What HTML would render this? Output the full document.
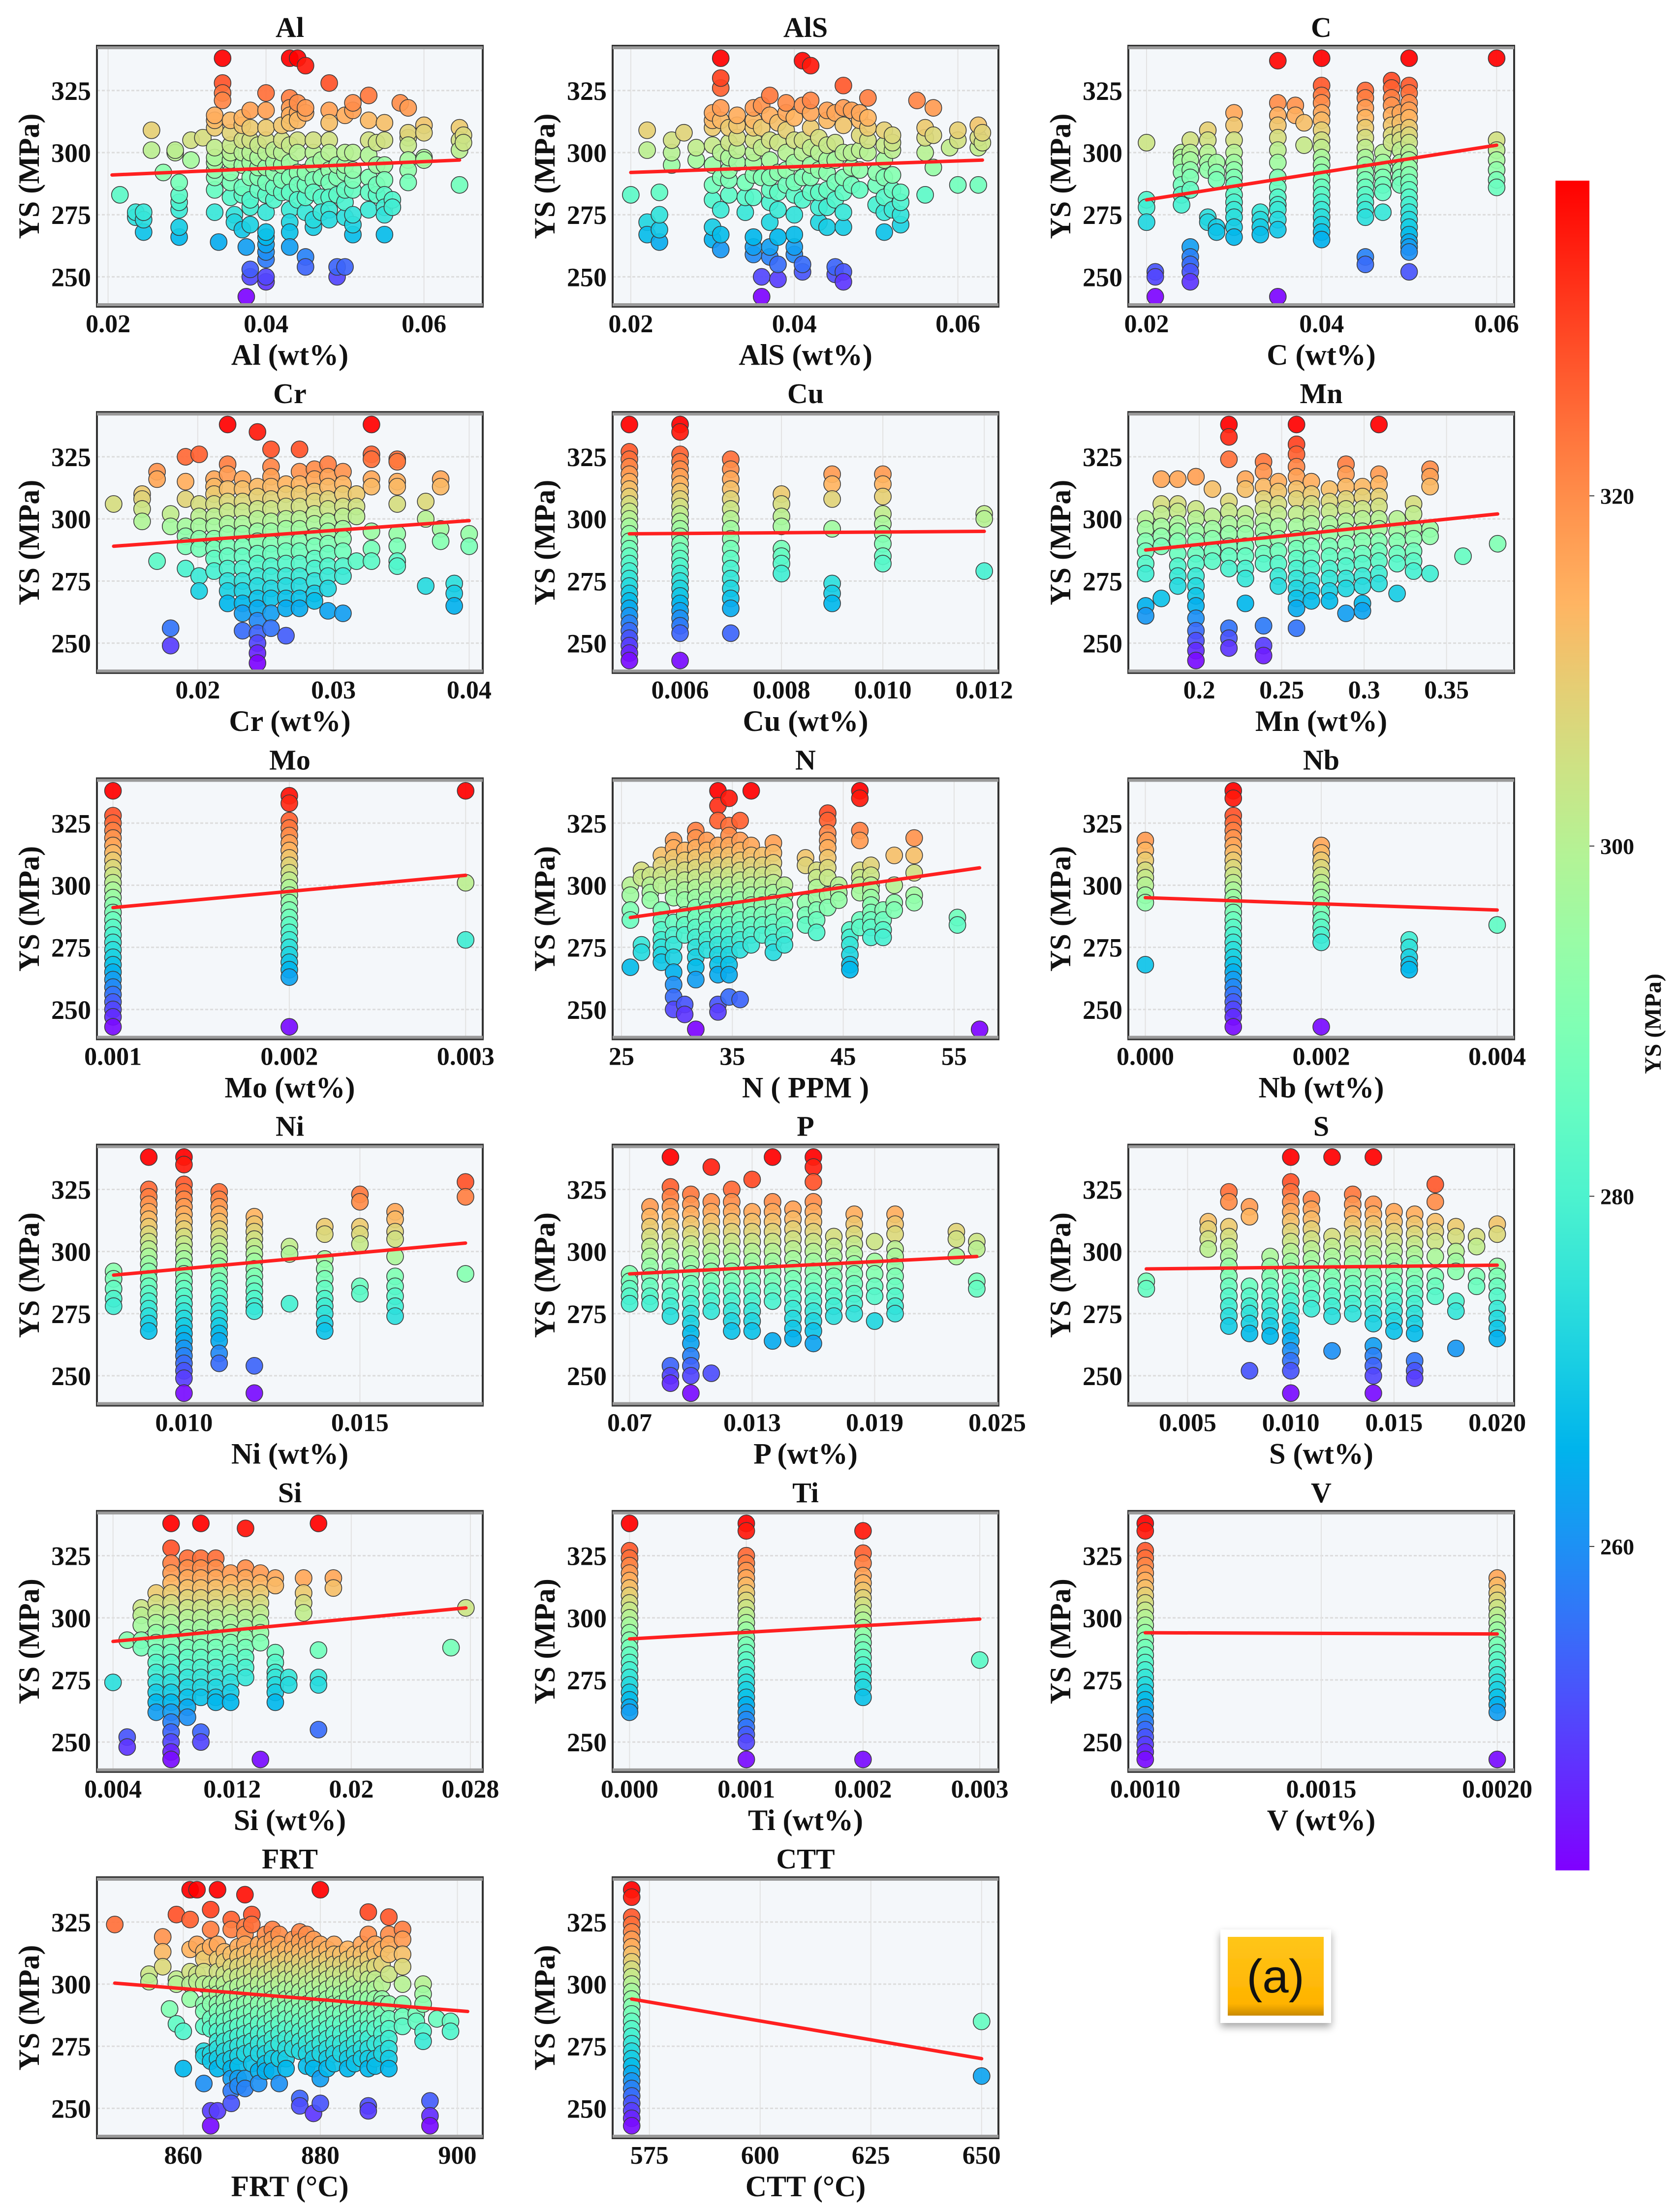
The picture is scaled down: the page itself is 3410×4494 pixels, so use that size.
<!DOCTYPE html>
<html><head><meta charset="utf-8"><title>YS scatter matrix</title>
<style>
html,body{margin:0;padding:0;background:#fff;}
svg{display:block;}
text{font-family:"Liberation Serif","DejaVu Serif",serif;font-weight:bold;fill:#111;}
</style></head>
<body>
<svg id="fig" width="3410" height="4494" viewBox="0 0 3410 4494" xmlns="http://www.w3.org/2000/svg">
<defs>
<linearGradient id="cbgrad" x1="0" y1="1" x2="0" y2="0"></linearGradient>
<linearGradient id="gold" x1="0" y1="0" x2="0" y2="1"><stop offset="0" stop-color="#ffc61a"/><stop offset="0.85" stop-color="#ffb300"/><stop offset="1" stop-color="#c98a00"/></linearGradient>
<filter id="shadow" x="-20%" y="-20%" width="140%" height="150%"><feDropShadow dx="0" dy="8" stdDeviation="8" flood-color="#000" flood-opacity="0.35"/></filter>
</defs>
<g id="panels"></g>
<g id="colorbar"></g>
<g filter="url(#shadow)">
<rect x="2480" y="3920" width="225" height="190" fill="#fff"/>
<rect x="2495" y="3935" width="195" height="160" fill="url(#gold)"/>
</g>
<text x="2592" y="4048" text-anchor="middle" font-size="96" style="font-family:'Liberation Sans',sans-serif;font-weight:normal">(a)</text>
</svg>
<script>
// ---------- shared y axis / colour scale ----------
const yTicks = [250, 275, 300, 325];
const yDomain = [238, 343];
const cbDomain = [241.5, 338];
const cbTicks = [260, 280, 300, 320];

// ---------- panel data: [x, [YS values]] groups, fit line [x0,y0,x1,y1] ----------
const dataAl = [[0.0215,[283]],[0.0235,[274,276]],[0.0245,[268,273,276]],[0.0255,[301,309]],[0.027,[292]],[0.0285,[300,301]],[0.029,[266,270,277,280,283,288]],[0.0305,[297,305]],[0.032,[306]],[0.0335,[276,285,290,293,296,298,302,310,313,315]],[0.034,[264]],[0.0345,[338,328,324,321]],[0.0355,[282,288,292,297,300,303,308,313]],[0.036,[275,272]],[0.037,[269,283,286,295,300,305,311,314]],[0.0375,[242,262]],[0.038,[250,253,271,278,281,290,296,300,305,310,317]],[0.039,[285,290,294,298,303]],[0.040,[248,250,257,260,263,266,268,276,283,288,294,300,305,310,317,324]],[0.041,[281,286,292,296,301]],[0.042,[284,289,295,300,305,311]],[0.043,[338,322,318,315,312,303,296,290,284,277,272,268,262]],[0.044,[338,316,320,313,305,300,292,287,281]],[0.045,[335,316,318,258,254,276,282,287,292]],[0.046,[300,305,295,289,284,270,273]],[0.047,[297,290,282,276]],[0.048,[328,317,312,305,300,293,288,282,277,273]],[0.049,[250,254,283,290,295]],[0.050,[254,274,280,285,292,295,300,315]],[0.051,[267,271,275,285,289,293,300,317,320]],[0.053,[323,313,305,299,290,284,277]],[0.054,[283,287,295,304]],[0.055,[312,305,295,289,283,278,275,267]],[0.056,[281,278]],[0.057,[320]],[0.058,[318,306,308,303,297,293,288]],[0.060,[311,308,298,297]],[0.0645,[310,305,301,287]],[0.065,[307,304]]];
const fitAl = [0.0205, 291, 0.0645, 297];
const dataAlS = [[0.0200,[283]],[0.0220,[301,309,272,267]],[0.0235,[264,269,275,284]],[0.025,[295,300,305]],[0.0265,[308]],[0.028,[297,302]],[0.030,[265,270,281,287,295,303,310,313,316]],[0.031,[261,267,277,290,300,313,318,326,330,338]],[0.032,[283,289,293,298,304,310]],[0.033,[296,301,306,311,315]],[0.034,[276,282,288]],[0.035,[259,262,266,282,291,296,300,305,310,313,318]],[0.036,[250,242,290,302,310,319]],[0.037,[258,262,272,280,285,290,297,305,315,323]],[0.038,[249,255,266,277,284,292,304,312]],[0.039,[287,293,300,309,316,320]],[0.040,[259,262,267,275,283,288,296,305,314]],[0.041,[252,255,281,290,300,305,319,337]],[0.042,[335,284,290,295,302,310,316,321]],[0.043,[272,278,284,293,300,306]],[0.044,[270,278,285,292,297,303,313,317]],[0.045,[251,254,281,288,297,304,316]],[0.046,[252,248,270,276,284,290,300,311,318,327]],[0.047,[287,294,300,317]],[0.048,[285,293,301,307,313,316]],[0.049,[300,305,310,314,322]],[0.050,[279,287,292]],[0.051,[268,276,282,290,297,303,309]],[0.052,[277,285,291,301,304,307]],[0.053,[271,275,280,284]],[0.055,[321]],[0.056,[283,300,306,310]],[0.057,[318,307,294]],[0.059,[302]],[0.060,[287,305,309]],[0.0625,[302,306,311,287]],[0.063,[304,308]]];
const fitAlS = [0.0200, 292, 0.0630, 297];
const dataC = [[0.020,[304,281,278,272]],[0.021,[252,250,242]],[0.024,[300,298,296,292,287,283,279]],[0.025,[305,300,297,293,290,285,262,258,255,252,248]],[0.027,[309,305,300,296,293,274,272]],[0.028,[296,292,289,270,268]],[0.030,[316,311,305,300,296,293,290,287,283,280,277,274,270,266]],[0.033,[276,273,270,267]],[0.035,[242,337,320,315,311,306,301,296,290,286,282,279,277,273,269]],[0.037,[319,315]],[0.038,[312,303]],[0.040,[338,327,323,320,316,313,309,305,302,298,295,292,289,286,283,280,277,274,271,268,265]],[0.045,[325,322,318,314,310,306,302,298,295,292,289,286,283,280,277,274,258,255]],[0.047,[300,296,293,290,287,284,276]],[0.048,[329,326,322,319,315,311,307,304]],[0.049,[316,312,308,305,301,296,293,290,287]],[0.050,[338,327,324,320,317,314,310,307,304,300,297,294,291,288,285,282,279,276,273,270,267,264,262,260,252]],[0.060,[338,305,301,297,293,289,286]]];
const fitC = [0.020, 281, 0.060, 303];
const dataCr = [[0.0138,[306]],[0.0159,[310,308,304,299]],[0.017,[319,316,283]],[0.018,[302,297,256,249]],[0.0191,[325,315,308,297,293,289,280]],[0.0201,[326,306,301,297,292,288,277,271]],[0.0212,[316,313,310,306,301,297,292,288,284,279]],[0.0222,[338,322,318,312,307,303,298,294,289,285,280,275,271,266]],[0.0233,[316,312,307,303,298,294,289,285,280,275,271,266,262,255]],[0.0244,[335,313,309,304,300,295,291,286,282,277,273,268,264,259,254,250,246,242]],[0.0254,[328,321,317,313,308,304,299,295,290,286,281,277,272,268,262,256]],[0.0265,[314,310,305,300,296,291,287,282,277,273,268,264,253]],[0.0275,[328,319,314,310,305,300,296,291,287,282,277,273,268,264]],[0.0286,[320,316,311,307,302,298,293,289,284,280,275,270,267]],[0.0296,[322,317,313,308,304,299,295,290,286,281,277,272,263]],[0.0307,[319,314,310,305,301,296,292,287,281,277,262]],[0.0317,[310,305,301,283]],[0.0328,[338,326,324,316,313,295,288,283]],[0.0347,[324,323,315,313,306,294,289,283,281]],[0.0368,[307,300,273]],[0.0379,[316,313,296,291]],[0.0389,[274,270,265]],[0.040,[294,289]]];
const fitCr = [0.0138, 289, 0.040, 299.3];
const dataCu = [[0.005,[338,327,324,321,318,315,312,309,306,303,300,297,294,291,288,285,282,279,276,273,270,267,264,261,258,255,252,249,246,243]],[0.006,[338,335,326,323,320,317,314,311,308,305,302,299,296,293,290,287,284,281,278,275,272,269,266,263,260,257,254,243]],[0.007,[324,320,316,312,308,304,300,296,292,288,284,280,276,272,268,264,254]],[0.008,[310,306,301,297,288,285,282,278]],[0.009,[318,314,308,296,274,270,266]],[0.010,[318,314,309,302,298,294,290,285,282]],[0.012,[302,300,279]]];
const fitCu = [0.005, 294, 0.012, 295];
const dataMn = [[0.1675,[300,296,291,287,282,278,265,261]],[0.177,[316,306,302,297,293,289,268]],[0.187,[316,306,303,298,295,291,286,281,277,273]],[0.198,[317,304,300,295,291,286,282,277,273,269,265,260,255,251,247,243]],[0.208,[312,301,296,292,287,283]],[0.218,[338,333,324,307,303,298,294,289,285,280,256,252,248]],[0.228,[316,312,302,298,294,289,285,280,276,266]],[0.239,[323,319,313,308,304,299,295,291,286,282,257,249,245]],[0.248,[315,311,306,302,297,292,287,282,277,273]],[0.259,[338,330,326,321,317,312,308,302,297,292,288,284,280,276,272,268,264,256]],[0.268,[315,310,306,302,298,293,289,284,280,275,271,267]],[0.279,[312,307,303,298,294,289,285,280,276,271,267]],[0.289,[322,318,313,308,304,299,295,290,285,281,276,272,262]],[0.299,[313,309,304,300,295,291,286,282,277,273,266,263]],[0.309,[338,318,314,309,305,300,296,291,287,283,278,274]],[0.32,[300,295,291,286,282,270]],[0.33,[306,302,296,292,287,283,279]],[0.34,[320,317,313,296,293,278]],[0.36,[285]],[0.381,[290]]];
const fitMn = [0.1675, 287.5, 0.381, 302];
const dataMo = [[0.001,[338,328,325,322,319,316,313,310,307,304,301,298,295,292,289,286,283,280,277,274,271,268,265,262,259,256,253,250,247,243]],[0.002,[336,333,326,323,320,317,314,311,308,305,302,299,296,293,290,287,284,281,278,275,272,269,266,263,243]],[0.003,[338,301,278]]];
const fitMo = [0.001, 291, 0.003, 304];
const dataN = [[25.8,[300,296,290,286,267]],[26.8,[306,303,276,273]],[27.6,[304,300,297,294]],[28.6,[312,308,304,300,290,286,282,278,275,272,269]],[29.7,[318,315,311,307,303,299,295,285,280,276,271,265,260,255,250]],[30.7,[314,310,306,302,298,294,288,284,280,252,248]],[31.7,[322,319,315,311,307,303,299,295,291,287,283,279,275,271,267,262,242]],[32.7,[318,314,310,306,302,298,294,290,286,282,278,274]],[33.7,[338,332,326,316,312,308,304,300,296,292,288,284,280,276,272,268,264,252,249]],[34.7,[335,324,320,316,312,308,304,300,296,292,288,284,280,276,272,268,264,255]],[35.7,[326,318,314,310,306,302,298,294,290,286,282,278,274,254]],[36.7,[338,316,312,308,304,300,296,292,288,284,280,276]],[37.7,[312,308,304,300,296,292,288,284,280]],[38.7,[317,313,309,305,301,297,293,289,285,281,277,273]],[39.7,[300,296,292,288,284,280,276]],[41.6,[311,308,293,288,284]],[42.6,[306,303,299,295,290,286,281]],[43.6,[329,326,321,318,315,311,307,303,296,291]],[44.6,[300,297,294]],[45.6,[282,279,276,272,268,266]],[46.5,[338,335,322,318,306,303,300,297,286,283]],[47.5,[308,304,300,298,295,292,289,286,283,279]],[48.6,[290,286,282,279]],[49.6,[312,300,293,290]],[51.4,[319,312,305,296,293]],[55.3,[287,284]],[57.3,[242]]];
const fitN = [25.8, 287, 57.3, 307];
const dataNb = [[0.000,[318,314,310,306,303,300,296,293,268]],[0.001,[338,335,328,325,322,319,316,313,310,307,304,301,298,295,292,289,286,283,280,277,274,271,268,265,262,259,256,253,250,247,243]],[0.002,[316,313,310,307,304,301,298,295,292,289,286,283,280,277,243]],[0.003,[278,275,271,268,266]],[0.004,[284]]];
const fitNb = [0.000, 295, 0.004, 290];
const dataNi = [[0.008,[292,289,285,281,278]],[0.009,[338,325,322,319,316,313,310,307,304,301,298,295,292,289,286,283,280,277,274,271,268]],[0.010,[338,335,327,324,321,318,315,312,309,306,303,300,297,294,291,288,285,282,279,276,273,270,267,264,261,258,255,252,249,243]],[0.011,[324,321,318,315,312,309,306,303,300,297,294,291,288,285,282,279,276,273,270,267,264,259,255]],[0.012,[314,311,308,305,302,299,296,293,290,287,284,281,278,276,254,243]],[0.013,[302,299,279]],[0.014,[310,307,297,293,289,285,281,278,275,271,268]],[0.015,[323,320,310,307,303,286,283]],[0.016,[316,313,308,305,298,290,286,282,278,274]],[0.018,[328,322,291]]];
const fitNi = [0.008, 290.5, 0.018, 303.4];
const dataP = [[0.007,[291,288,285,282,279]],[0.008,[318,314,310,306,302,298,294,290,286,282,279]],[0.009,[338,326,322,318,314,310,306,302,298,294,290,286,282,278,274,254,250,247]],[0.010,[323,319,315,311,307,303,299,295,291,287,283,279,275,271,267,263,258,254,250,243]],[0.011,[334,320,316,312,308,304,300,296,292,288,284,280,276,251]],[0.012,[325,320,316,312,308,304,300,296,292,288,284,280,276,272,268]],[0.013,[329,316,312,308,304,300,296,292,288,284,280,276,272,268]],[0.014,[338,320,316,312,308,304,300,296,292,288,284,280,264]],[0.015,[317,313,309,305,301,297,293,289,285,281,277,273,269,265]],[0.016,[338,334,328,320,316,312,308,304,300,296,292,288,284,280,276,272,268,263]],[0.017,[306,302,298,294,290,286,282,278,274]],[0.018,[315,311,307,303,299,295,291,287,283,279,275]],[0.019,[304,296,291,286,282,272]],[0.020,[315,311,307,301,298,294,290,286,282,278,275]],[0.023,[308,305,298]],[0.024,[304,301,288,285]]];
const fitP = [0.007, 291, 0.024, 298];
const dataS = [[0.003,[288,285]],[0.006,[312,309,305,301]],[0.007,[324,320,310,306,302,298,294,290,286,282,278,274,270]],[0.008,[318,314,286,282,278,275,271,267,252]],[0.009,[298,294,290,286,282,278,274,270,266]],[0.010,[338,328,324,320,316,312,308,304,300,296,292,288,284,280,276,272,268,264,260,256,252,243]],[0.011,[321,317,313,309,305,301,297,293,289,285,281,277]],[0.012,[338,306,302,298,294,290,286,282,278,274,260]],[0.013,[323,319,315,311,307,303,299,295,291,287,283,279,275]],[0.014,[338,319,315,311,307,303,299,295,291,287,283,279,275,271,262,258,254,250,243]],[0.015,[316,312,308,304,300,296,292,288,284,280,276,272,268]],[0.016,[315,311,307,303,299,295,291,287,283,279,275,271,267,256,252,249]],[0.017,[327,320,312,308,304,298,290,286,282]],[0.018,[310,306,300,296,292,280,276,261]],[0.019,[306,302,290,286]],[0.020,[311,307,294,290,286,282,277,273,269,265]]];
const fitS = [0.003, 293, 0.020, 294.5];
const dataSi = [[0.004,[274]],[0.00495,[291,252,248]],[0.0059,[304,301,297,291,288]],[0.0069,[310,306,302,298,294,290,286,282,278,274,270,266,262]],[0.0079,[338,328,322,318,314,310,306,302,298,294,290,286,282,278,274,270,266,262,258,254,250,246,243]],[0.0090,[324,320,316,312,308,304,300,296,292,288,284,280,276,272,268,264,260]],[0.0099,[338,324,320,316,312,308,304,300,296,292,288,284,280,276,272,268,254,250]],[0.0109,[324,320,316,312,308,304,300,296,292,288,284,280,276,272,268,266]],[0.0119,[318,314,310,306,302,298,294,290,286,282,278,274,270,266]],[0.0129,[336,320,316,312,308,304,300,296,292,288,284,280,276]],[0.0139,[318,314,310,306,302,298,294,290,243]],[0.0149,[316,313,286,282,278,276,273,270,266]],[0.0158,[276,273]],[0.0168,[316,310,306,302]],[0.0178,[338,287,276,273,255]],[0.0188,[316,312]],[0.0267,[288]],[0.0277,[304]]];
const fitSi = [0.0040, 290.5, 0.0277, 304];
const dataTi = [[0.000,[338,327,324,321,318,315,312,309,306,303,300,297,294,291,288,285,282,279,276,273,270,267,264,262]],[0.001,[338,335,325,322,319,316,313,310,307,304,301,298,295,292,289,286,283,280,277,274,271,268,265,262,259,256,253,250,243]],[0.002,[335,326,322,317,314,311,308,305,302,299,296,293,290,287,284,281,278,275,272,268,243]],[0.003,[283]]];
const fitTi = [0.000, 291.5, 0.003, 299.5];
const dataV = [[0.001,[338,335,327,324,321,318,315,312,309,306,303,300,297,294,291,288,285,282,279,276,273,270,267,264,261,258,255,252,249,246,243]],[0.002,[316,313,310,307,304,301,298,295,292,289,286,283,280,277,274,271,268,265,262,243]]];
const fitV = [0.001, 294, 0.002, 293.5];
const dataFRT = [[850,[324]],[855,[304,301]],[857,[319,313,307]],[858,[290]],[859,[328,302,300,284]],[860,[281,266]],[861,[338,326,314,305,300,294]],[862,[338,304,301,316]],[863,[313,310,305,300,292,289,283,273,271,260]],[864,[330,322,315,300,296,292,286,282,272,269,249,243]],[865,[338,316,310,305,300,296,292,289,285,281,277,274,270,266,249]],[866,[313,309,304,300,296,293,289,285,281,277,273,269]],[867,[326,322,312,307,303,298,294,290,286,282,278,274,270,266,262,257,252]],[868,[315,311,307,303,299,295,291,287,283,279,275,271,267,262,259]],[869,[336,323,320,316,312,308,304,300,296,292,288,284,280,276,272,262,258]],[870,[328,324,313,309,305,301,297,293,289,285,281,277,273,268]],[871,[316,312,308,304,300,296,292,288,284,280,276,272,265,260]],[872,[320,316,312,308,304,300,296,292,288,284,280,276,272,268,265]],[873,[322,318,314,310,306,302,298,294,290,286,282,278,274,270,265]],[874,[320,316,312,308,304,300,296,292,288,284,280,276,270,260]],[875,[314,310,306,302,298,294,290,286,282,278,274,270,266]],[876,[318,314,310,306,302,298,294,290,286,282,278,274]],[877,[321,317,313,309,305,301,297,293,289,285,281,277,273,254,251]],[878,[320,316,312,308,304,300,296,292,288,284,280,276,272,267]],[879,[318,314,310,306,302,298,294,290,286,282,278,274,270,266,248]],[880,[338,316,312,308,304,300,296,292,288,284,280,276,272,262,252]],[881,[314,310,306,302,298,294,290,286,282,278,274,270,266]],[882,[316,312,308,304,300,296,292,288,284,280,276,272,268]],[883,[312,308,304,300,296,292,288,284,280,276,272]],[884,[314,310,306,302,298,294,290,286,282,278,274,270,266]],[885,[312,308,304,300,296,292,288,284,280,276,272,268]],[886,[316,312,308,304,298,294,290,286,282,278,274,270]],[887,[329,320,314,310,306,302,298,294,290,286,282,278,274,270,266,251,249]],[888,[316,312,307,302,298,294,290,286,282,276,270,267]],[889,[314,308,300,294,292,288,284,280,276,272]],[890,[327,320,316,312,304,292,286,282,278,274,270,266]],[892,[322,318,312,307,300,292,287,283]],[894,[288,285]],[895,[300,296,292,281,277]],[896,[253,247,243]],[897,[286]],[899,[285,281]]];
const fitFRT = [850, 300.4, 901.5, 289];
const dataCTT = [[571,[338,335,327,324,321,318,315,312,309,306,303,300,297,294,291,288,285,282,279,276,273,270,267,264,261,258,255,252,249,246,243]],[650,[285,263]]];
const fitCTT = [571, 294, 650, 270];

// ---------- panel axes ----------
const panelNames = ["Al","AlS","C","Cr","Cu","Mn","Mo","N","Nb","Ni","P","S","Si","Ti","V","FRT","CTT"];
const xLabels = ["Al (wt%)","AlS (wt%)","C (wt%)","Cr (wt%)","Cu (wt%)","Mn (wt%)","Mo (wt%)","N ( PPM )","Nb (wt%)","Ni (wt%)","P (wt%)","S (wt%)","Si (wt%)","Ti (wt%)","V (wt%)","FRT (°C)","CTT (°C)"];
const xDomains = [[0.01859,0.06744],[0.01778,0.06496],[0.01792,0.0620],[0.01257,0.0410],[0.00467,0.01228],[0.157,0.391],[0.000909,0.003097],[24.2,59.0],[-0.000193,0.004193],[0.007527,0.01849],[0.00617,0.02506],[0.00213,0.02082],[0.00292,0.02883],[-0.000145,0.00316],[0.000952,0.002048],[847.4,903.7],[566.7,653.8]];
const xTickVals = [[0.02,0.04,0.06],[0.02,0.04,0.06],[0.02,0.04,0.06],[0.02,0.03,0.04],[0.006,0.008,0.010,0.012],[0.2,0.25,0.3,0.35],[0.001,0.002,0.003],[25,35,45,55],[0,0.002,0.004],[0.010,0.015],[0.007,0.013,0.019,0.025],[0.005,0.010,0.015,0.020],[0.004,0.012,0.02,0.028],[0,0.001,0.002,0.003],[0.001,0.0015,0.002],[860,880,900],[575,600,625,650]];
const xTickLabels = [["0.02","0.04","0.06"],["0.02","0.04","0.06"],["0.02","0.04","0.06"],["0.02","0.03","0.04"],["0.006","0.008","0.010","0.012"],["0.2","0.25","0.3","0.35"],["0.001","0.002","0.003"],["25","35","45","55"],["0.000","0.002","0.004"],["0.010","0.015"],["0.07","0.013","0.019","0.025"],["0.005","0.010","0.015","0.020"],["0.004","0.012","0.02","0.028"],["0.000","0.001","0.002","0.003"],["0.0010","0.0015","0.0020"],["860","880","900"],["575","600","625","650"]];
const panelData = [dataAl,dataAlS,dataC,dataCr,dataCu,dataMn,dataMo,dataN,dataNb,dataNi,dataP,dataS,dataSi,dataTi,dataV,dataFRT,dataCTT];
const panelFits = [fitAl,fitAlS,fitC,fitCr,fitCu,fitMn,fitMo,fitN,fitNb,fitNi,fitP,fitS,fitSi,fitTi,fitV,fitFRT,fitCTT];

// ---------- helpers ----------
const NS = "http://www.w3.org/2000/svg";
function mk(tag, attrs, parent){
  const e = document.createElementNS(NS, tag);
  for (const k in attrs) e.setAttribute(k, attrs[k]);
  parent.appendChild(e);
  return e;
}
function rainbow(t){
  t = Math.max(0, Math.min(1, t));
  const r = Math.min(1, Math.abs(2*t - 0.5));
  const g = Math.sin(Math.PI*t);
  const b = Math.cos(Math.PI*t/2);
  return "rgb(" + Math.round(r*255) + "," + Math.round(g*255) + "," + Math.round(b*255) + ")";
}
function colorFor(v){ return rainbow((v - cbDomain[0])/(cbDomain[1]-cbDomain[0])); }

const BOX_W = 784, BOX_H = 530;
const panelsG = document.getElementById("panels");

panelNames.forEach(function(name, i){
  const col = i % 3, row = Math.floor(i / 3);
  const L = 197 + 1048*col, T = 93 + 744.2*row, R = L + BOX_W, B = T + BOX_H;
  const xd = xDomains[i];
  const xs = function(v){ return L + (v - xd[0])/(xd[1]-xd[0])*BOX_W; };
  const ys = function(v){ return B - (v - yDomain[0])/(yDomain[1]-yDomain[0])*BOX_H; };
  const slug = name.toLowerCase();

  const g = mk("g", {}, panelsG);
  
  

  const bg = mk("rect", {x:L, y:T, width:BOX_W, height:BOX_H, fill:"#f4f7fa"}, g);
  
  

  // grid
  yTicks.forEach(function(t){
    const gl = mk("line", {x1:L, x2:R, y1:ys(t), y2:ys(t), stroke:"#dcdcdc", "stroke-width":3, "stroke-dasharray":"6 4"}, g);
    
    
    const tl = mk("text", {x:L-12, y:ys(t)+19, "text-anchor":"end", "font-size":54}, g);
    tl.textContent = t;
    
    
  });
  xTickVals[i].forEach(function(t, k){
    const gl = mk("line", {x1:xs(t), x2:xs(t), y1:T, y2:B, stroke:"#e2e2e2", "stroke-width":2}, g);
    
    
    const tl = mk("text", {x:xs(t), y:B+52, "text-anchor":"middle", "font-size":52}, g);
    tl.textContent = xTickLabels[i][k];
    
    
  });

  // points
  panelData[i].forEach(function(grp){
    grp[1].forEach(function(v){
      const c = mk("circle", {cx:xs(grp[0]), cy:ys(v), r:17, fill:colorFor(v), stroke:"#3a3a3a", "stroke-width":1.6, "fill-opacity":0.92}, g);
      
      
    });
  });

  // fit line
  const f = panelFits[i];
  const fl = mk("line", {x1:xs(f[0]), y1:ys(f[1]), x2:xs(f[2]), y2:ys(f[3]), stroke:"#ff2020", "stroke-width":7, "stroke-linecap":"round"}, g);
  
  

  // frame
  const fr = mk("rect", {x:L, y:T, width:BOX_W, height:BOX_H, fill:"none", stroke:"#333", "stroke-width":4}, g);
  
  
  const ft = mk("line", {x1:L, x2:R, y1:T+4, y2:T+4, stroke:"#9a9a9a", "stroke-width":6}, g);
  
  
  const fb = mk("line", {x1:L, x2:R, y1:B-4, y2:B-4, stroke:"#9a9a9a", "stroke-width":6}, g);
  
  

  // titles
  const tt = mk("text", {x:(L+R)/2, y:T-18, "text-anchor":"middle", "font-size":58}, g);
  tt.textContent = name;
  
  
  const xl = mk("text", {x:(L+R)/2, y:B+118, "text-anchor":"middle", "font-size":60}, g);
  xl.textContent = xLabels[i];
  
  
  const yl = mk("text", {x:0, y:0, "text-anchor":"middle", "font-size":60, transform:"translate(" + (L-118) + "," + (T+BOX_H/2) + ") rotate(-90)"}, g);
  yl.textContent = "YS (MPa)";
  
  
});

// ---------- colorbar ----------
const grad = document.getElementById("cbgrad");
for (let s = 0; s <= 20; s++){
  const st = document.createElementNS(NS, "stop");
  st.setAttribute("offset", s/20);
  st.setAttribute("stop-color", rainbow(s/20));
  grad.appendChild(st);
}
const cbG = document.getElementById("colorbar");
const CB_L = 3161, CB_W = 69, CB_T = 367, CB_B = 3800;
const cbY = function(v){ return CB_B - (v - cbDomain[0])/(cbDomain[1]-cbDomain[0])*(CB_B-CB_T); };
const cbr = mk("rect", {x:CB_L, y:CB_T, width:CB_W, height:CB_B-CB_T, fill:"url(#cbgrad)"}, cbG);


cbTicks.forEach(function(t){
  const tk = mk("line", {x1:CB_L+CB_W, x2:CB_L+CB_W+10, y1:cbY(t), y2:cbY(t), stroke:"#333", "stroke-width":2}, cbG);
  
  
  const tl = mk("text", {x:CB_L+CB_W+22, y:cbY(t)+16, "font-size":46}, cbG);
  tl.textContent = t;
  
  
});
const cbl = mk("text", {x:0, y:0, "text-anchor":"middle", "font-size":48, transform:"translate(3375,2080) rotate(-90)"}, cbG);
cbl.textContent = "YS (MPa)";


</script>
</body></html>
